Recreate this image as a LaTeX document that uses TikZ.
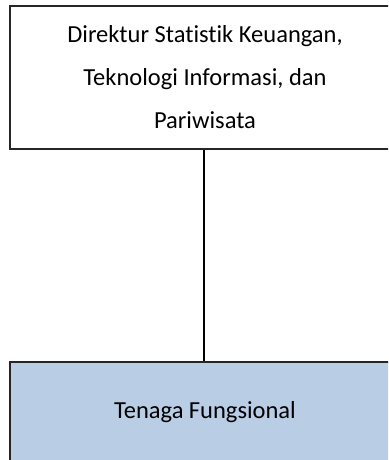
\documentclass[tikz,border=0pt]{standalone}
\usepackage{fontspec}
\setmainfont{Carlito}[Ligatures=NoCommon]
\usepackage{tikz}
\definecolor{boxblue}{HTML}{B9CDE5}
\tikzstyle{unit} = [rectangle, draw=black!85, line width=1.3pt, minimum width=390pt, text centered, align=center, inner sep=0pt, font=\fontsize{24.5}{43}\selectfont]
\tikzstyle{link} = [line width=1.8pt, draw=black]

\begin{document}
\begin{tikzpicture}[x=1pt, y=-1pt]
	\useasboundingbox (0,0) rectangle (388,460);
	\clip (0,0) rectangle (388,460);
	\node (direktur) at (205, 77.5) [unit, minimum height=143pt] {Direktur Statistik Keuangan,\\Teknologi Informasi, dan\\Pariwisata};
	\node (fungsional) at (205, 412) [unit, minimum height=100pt, fill=boxblue] {Tenaga Fungsional};
	\draw[link] (direktur.south -| 204,0) -- (fungsional.north -| 204,0);
\end{tikzpicture}
\end{document}
